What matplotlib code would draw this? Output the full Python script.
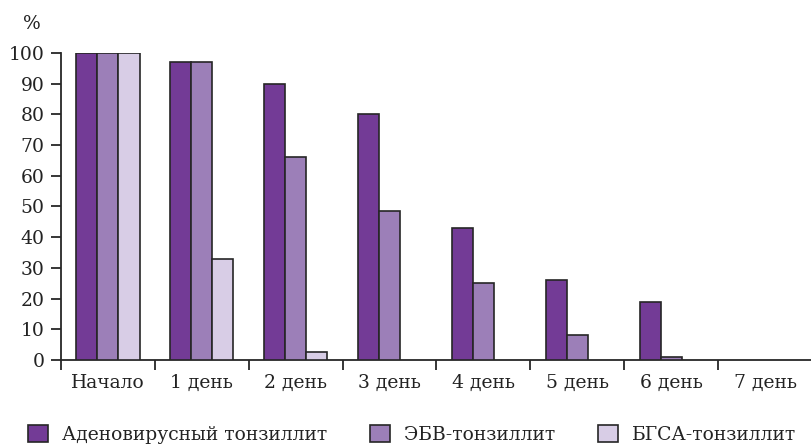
import matplotlib
matplotlib.use("Agg")
import matplotlib.pyplot as plt
import numpy as np
from matplotlib.patches import Patch

categories = ["Начало", "1 день", "2 день", "3 день", "4 день", "5 день", "6 день", "7 день"]
adeno = [100, 97, 90, 80, 43, 26, 19, 0]
ebv = [100, 97, 66, 48.5, 25, 8, 1, 0]
gas = [100, 33, 2.7, 0, 0, 0, 0, 0]
series_names = ["Аденовирусный тонзиллит", "ЭБВ-тонзиллит", "БГСА-тонзиллит"]
yticks = list(range(0, 101, 10))

colors = ["#733b96", "#9c7fb8", "#d8cde6"]
edge = "#262626"
text_color = "#222222"
fs = 13.5

plt.rcParams["font.family"] = ["DejaVu Serif"]

fig = plt.figure(figsize=(8.12, 4.46), dpi=100)
ax = fig.add_axes([0.0751, 0.193, 0.9249, 0.688])

x = np.arange(len(categories))
w = 0.225
for i, (vals, c) in enumerate(zip([adeno, ebv, gas], colors)):
    heights = np.array(vals, dtype=float)
    mask = heights > 0
    ax.bar(x[mask] + (i - 1) * w, heights[mask], width=w, color=c,
           edgecolor=edge, linewidth=1.2, zorder=3)

ax.set_xlim(-0.5, len(categories) - 0.5)
ax.set_ylim(0, 100)
ax.set_yticks(yticks)
ax.set_yticklabels([str(v) for v in yticks], fontsize=fs, color=text_color)
ax.set_xticks(x)
ax.set_xticklabels(categories, fontsize=fs, color=text_color)
ax.tick_params(axis="x", which="major", length=0, pad=10)
ax.set_xticks(np.arange(-0.5, len(categories) + 0.5, 1), minor=True)
ax.tick_params(axis="x", which="minor", length=7, width=1.3, color=edge, direction="out")
ax.tick_params(axis="y", length=7, width=1.3, color=edge, direction="out", pad=5)

for s in ["top", "right"]:
    ax.spines[s].set_visible(False)
for s in ["left", "bottom"]:
    ax.spines[s].set_linewidth(1.3)
    ax.spines[s].set_color(edge)

fig.text(0.028, 0.966, "%", fontsize=fs, color=text_color, va="top", ha="left")

handles = [Patch(facecolor=c, edgecolor=edge, linewidth=1.2) for c in colors]
fig.legend(handles, series_names, loc="lower left", bbox_to_anchor=(0.014, -0.033),
           ncol=3, frameon=False, fontsize=fs, handlelength=1.05, handleheight=1.05,
           handletextpad=0.75, columnspacing=2.3, labelcolor=text_color)

fig.savefig("out.png", dpi=100)
